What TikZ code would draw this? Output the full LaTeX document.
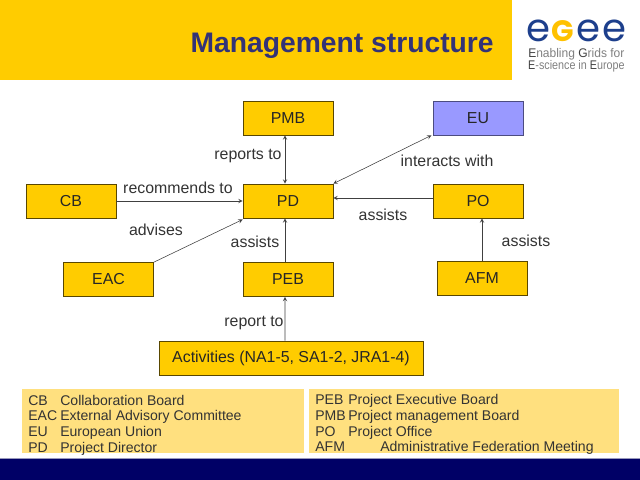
\documentclass[tikz,border=0pt]{standalone}
\usepackage{fontspec}
\setmainfont{Liberation Sans}
\newfontfamily\logofont{Poppins}
\definecolor{banner}{HTML}{FFCC00}
\definecolor{legendbg}{HTML}{FFE07F}
\definecolor{footbg}{HTML}{000066}
\definecolor{titleblue}{HTML}{333377}
\definecolor{eubox}{HTML}{9999FF}
\definecolor{logoblue}{HTML}{1D3F8C}
\begin{document}
\begin{tikzpicture}[x=0.025cm,y=-0.025cm]
\tikzstyle{bx} = [draw=black!65!banner,fill=banner,thin,minimum width=2.25cm,minimum height=0.85cm,inner sep=0pt,text=black!85,font=\fontsize{11.3}{13}\selectfont] %box
\tikzstyle{de} = [->,>=stealth,black!75,thin] %directed edge
\tikzstyle{lb} = [text=black!80,font=\fontsize{11.3}{13}\selectfont] %edge label
\tikzstyle{lg} = [anchor=base west,inner sep=0pt,text=black!80,font=\fontsize{10}{11}\selectfont] %legend line
\tikzstyle{le} = [anchor=base,inner sep=0pt,text=logoblue,font=\logofont\fontsize{27.5}{29}\selectfont] %logo letter
\tikzstyle{lt} = [anchor=base west,inner sep=0pt,text=black!50,font=\fontsize{8.9}{10}\selectfont] %logo text
\useasboundingbox(0,0)rectangle(640,480);
%header and footer
\fill[banner](0,0)rectangle(512,80);
\fill[footbg](0,458)rectangle(640,480);
\draw[black!15!footbg!40!white](0,458)--(640,458);
\node[anchor=east,inner sep=0pt,text=titleblue,font=\fontsize{20.1}{23}\selectfont\bfseries](ttl)at(494,46){Management structure};
%logo
\node[le](lga)at(538,41){e};
\node[le,text=banner!85!orange,font=\logofont\bfseries\fontsize{21}{24}\selectfont](lgb)at(563,41){G};
\node[le](lgc)at(588,41){e};
\node[le](lgd)at(614,41){e};
\node[lt,xscale=.96](lge)at(528,58){\textcolor{black!75}{E}nabling \textcolor{black!75}{G}rids for};
\node[lt,xscale=.86](lgf)at(528,69.500){\textcolor{black!75}{E}-science in \textcolor{black!75}{E}urope};
%boxes
\node[bx](vpmb)at(288,118){PMB};
\node[bx,fill=eubox,draw=black!50!eubox](veu)at(478,118){EU};
\node[bx](vpd)at(288,201){PD};
\node[bx](vpo)at(478,201){PO};
\node[bx](vcb)at(71,201){CB};
\node[bx](veac)at(108.500,279.500){EAC};
\node[bx](vpeb)at(288,279.500){PEB};
\node[bx](vafm)at(482,278.500){AFM};
\node[bx,minimum width=6.6cm](vact)at(291,358){Activities (NA1-5, SA1-2, JRA1-4)};
%edges
\draw[de,<->]([xshift=-0.075cm]vpmb.south)--([xshift=-0.075cm]vpd.north);
\draw[de,<->](vpd.north east)--([xshift=-0.03cm]veu.south west);
\draw[de](vcb.east)--(vpd.west);
\draw[de](veac.north east)--([yshift=-0.03cm]vpd.south west);
\draw[de]([yshift=0.075cm]vpo.west)--([yshift=0.075cm]vpd.east);
\draw[de]([xshift=-0.075cm]vpeb.north)--([xshift=-0.075cm]vpd.south);
\draw[de](vact.north-|vpeb.north)++(-3,0)--([xshift=-0.075cm]vpeb.south);
\draw[de](vafm.north)--(vafm.north|-vpo.south);
%edge labels
\node[lb](lrep)at(248,156){reports to};
\node[lb](lint)at(447,161){interacts with};
\node[lb](lrec)at(178,188){recommends to};
\node[lb](lasa)at(383,215){assists};
\node[lb](ladv)at(156,230){advises};
\node[lb](lasb)at(255,242){assists};
\node[lb](lasc)at(526,241){assists};
\node[lb](lrpt)at(254,323){report to};
%legends
\fill[legendbg](22,389)rectangle(304,453);
\fill[legendbg](309,389)rectangle(619,453);
\node[lg](ka)at(28,405){CB};
\node[lg](kb)at(28,420){EAC};
\node[lg](kc)at(28,436){EU};
\node[lg](kd)at(28,452){PD};
\node[lg](na)at(60,405){Collaboration Board};
\node[lg](nb)at(60,420){External Advisory Committee};
\node[lg](nc)at(60,436){European Union};
\node[lg](nd)at(60,452){Project Director};
\node[lg](ke)at(315,404){PEB};
\node[lg](kf)at(315,420){PMB};
\node[lg](kg)at(315,436){PO};
\node[lg](kh)at(315,451){AFM};
\node[lg](ne)at(348,404){Project Executive Board};
\node[lg](nf)at(348,420){Project management Board};
\node[lg](ng)at(348,436){Project Office};
\node[lg](nh)at(380,451){Administrative Federation Meeting};
\end{tikzpicture}
\end{document}
